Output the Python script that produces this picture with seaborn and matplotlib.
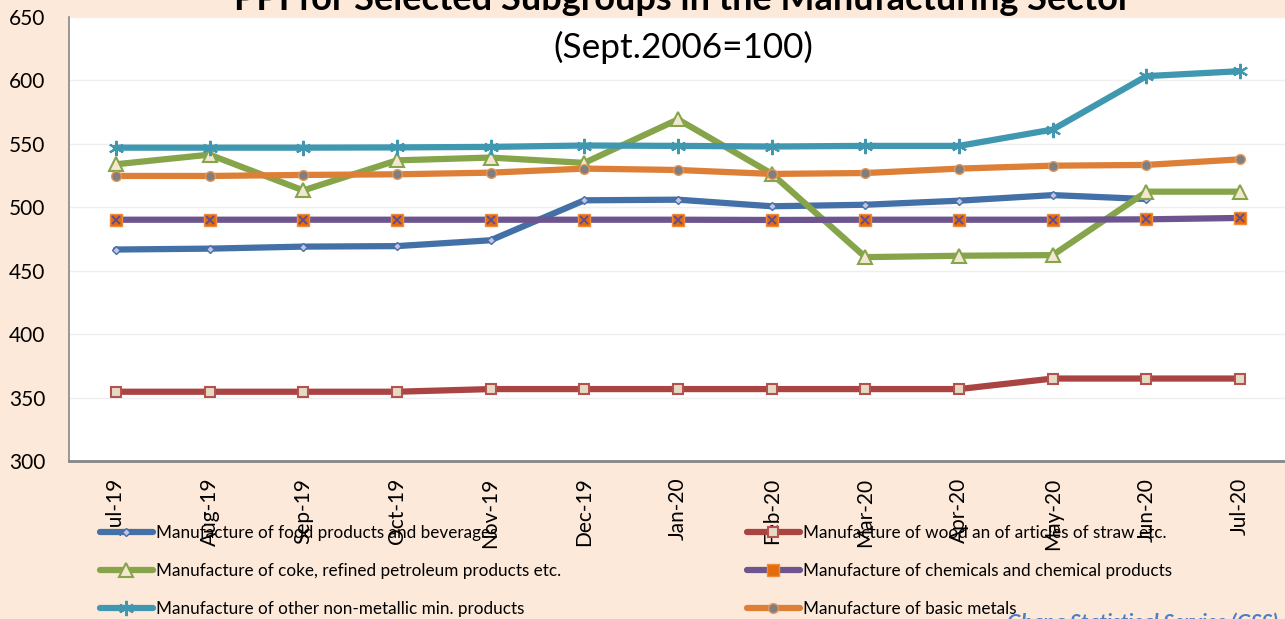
import matplotlib
matplotlib.use("Agg")
import matplotlib.pyplot as plt
import seaborn as sns
import numpy as np

# months on the category axis
months = ["Jul-19", "Aug-19", "Sep-19", "Oct-19", "Nov-19", "Dec-19",
          "Jan-20", "Feb-20", "Mar-20", "Apr-20", "May-20", "Jun-20", "Jul-20"]

# PPI values (Sept.2006=100)
food = [466.7, 467.4, 469.0, 469.4, 474.0, 505.5, 506.0, 500.8, 502.0, 505.2, 509.6, 506.5]
wood = [354.6, 354.6, 354.6, 354.6, 356.7, 356.7, 356.7, 356.7, 356.7, 356.7, 365.0, 365.0, 365.0]
coke = [533.9, 541.5, 513.3, 537.0, 539.2, 535.0, 569.3, 526.5, 460.7, 461.8, 462.3, 512.3, 512.3]
chemicals = [490.2, 490.2, 490.2, 490.2, 490.2, 490.2, 490.2, 490.0, 490.2, 490.2, 490.2, 490.5, 491.6]
non_metallic = [547.0, 547.0, 547.0, 547.2, 547.6, 548.7, 548.4, 547.9, 548.4, 548.4, 561.3, 603.4, 607.3]
basic_metals = [524.7, 524.7, 525.5, 526.0, 527.3, 530.5, 529.4, 526.3, 527.0, 530.5, 532.8, 533.4, 537.8]

labels = ["Manufacture of food products and beverages",
          "Manufacture of wood an of articles of straw etc.",
          "Manufacture of coke, refined petroleum products etc.",
          "Manufacture of chemicals and chemical products",
          "Manufacture of other non-metallic min. products",
          "Manufacture of basic metals"]

bg = "#FDE9D9"
sns.set_theme(style="white")
plt.rcParams["font.family"] = ["Lato", "DejaVu Sans"]

fig = plt.figure(figsize=(12.85, 6.19), dpi=100, facecolor=bg)
ax = fig.add_axes([69 / 1285, 1 - 461 / 619, 1218 / 1285, 444 / 619])
ax.set_facecolor("white")

lw = 4.5
styles = [
    dict(color="#4470A8", marker="D", markersize=4, markerfacecolor="#C8C2E2", markeredgecolor="#4470A8", markeredgewidth=1),
    dict(color="#A94442", marker="s", markersize=7, markerfacecolor="#E4DBC6", markeredgecolor="#B5514E", markeredgewidth=1.5),
    dict(color="#86A54A", marker="^", markersize=10, markerfacecolor="#F3E7D2", markeredgecolor="#86A54A", markeredgewidth=1.5),
    dict(color="#6C558F", marker="s", markersize=8, markerfacecolor="#E36C0A", markeredgecolor="#F08A3C", markeredgewidth=1),
    dict(color="#3F97B0", marker=(6, 2, 0), markersize=11, markerfacecolor="#3F97B0", markeredgecolor="#3F97B0", markeredgewidth=1.5),
    dict(color="#DD7F36", marker="o", markersize=7, markerfacecolor="#7F7F7F", markeredgecolor="#E89658", markeredgewidth=1),
]
series = [food, wood, coke, chemicals, non_metallic, basic_metals]

for vals, lab, st in zip(series, labels, styles):
    sns.lineplot(x=months[:len(vals)], y=vals, ax=ax, label=lab, linewidth=lw,
                 solid_capstyle="round", **st)
    if st["markerfacecolor"] == "#E36C0A":
        # cross drawn over the orange square
        ax.plot(months[:len(vals)], vals, linestyle="none", marker="x", markersize=6,
                markeredgecolor="#5B4A9E", markeredgewidth=1.3)

ax.set_xlim(-0.5, 12.5)
ax.set_ylim(300, 650)
ax.set_yticks(np.arange(300, 651, 50))
ax.yaxis.grid(True, color="#EFEFEF", linewidth=1)
ax.xaxis.grid(False)
ax.set_xlabel("")
ax.set_ylabel("")
ax.tick_params(axis="y", length=0, pad=17, labelsize=15, labelcolor="black")
ax.tick_params(axis="x", length=0, pad=12, labelsize=15, labelcolor="black", rotation=90)
for s in ["top", "right"]:
    ax.spines[s].set_visible(False)
ax.spines["left"].set_color("#868686")
ax.spines["left"].set_linewidth(1.2)
ax.spines["bottom"].set_color("#868686")
ax.spines["bottom"].set_linewidth(2)

handles, labs = ax.get_legend_handles_labels()
ax.get_legend().remove()
left_idx, right_idx = [0, 2, 4], [1, 3, 5]
for idx, x0 in [(left_idx, 100), (right_idx, 747)]:
    leg = fig.legend([handles[i] for i in idx], [labs[i] for i in idx],
                     loc="upper left", bbox_to_anchor=(x0 / 1285, 1 - 525 / 619),
                     frameon=False, fontsize=12.3, handlelength=3.1, handletextpad=0.15,
                     labelspacing=1.28, borderpad=0, borderaxespad=0)
    for t in leg.get_texts():
        t.set_color("black")

fig.text(683 / 1285, 1 - 10 / 619, "PPI for Selected Subgroups in the Manufacturing Sector",
         ha="center", va="baseline", fontsize=26, fontweight="bold", color="black")
fig.text(683 / 1285, 1 - 58 / 619, "(Sept.2006=100)", ha="center", va="baseline",
         fontsize=25.3, color="black")
fig.text(1007 / 1285, 1 - 613 / 619, "Ghana Statistical Service (GSS)", ha="left", va="top",
         fontsize=15, fontstyle="italic", fontweight="bold", color="#4A7EC6")

fig.savefig("out.png", dpi=100, facecolor=bg)
